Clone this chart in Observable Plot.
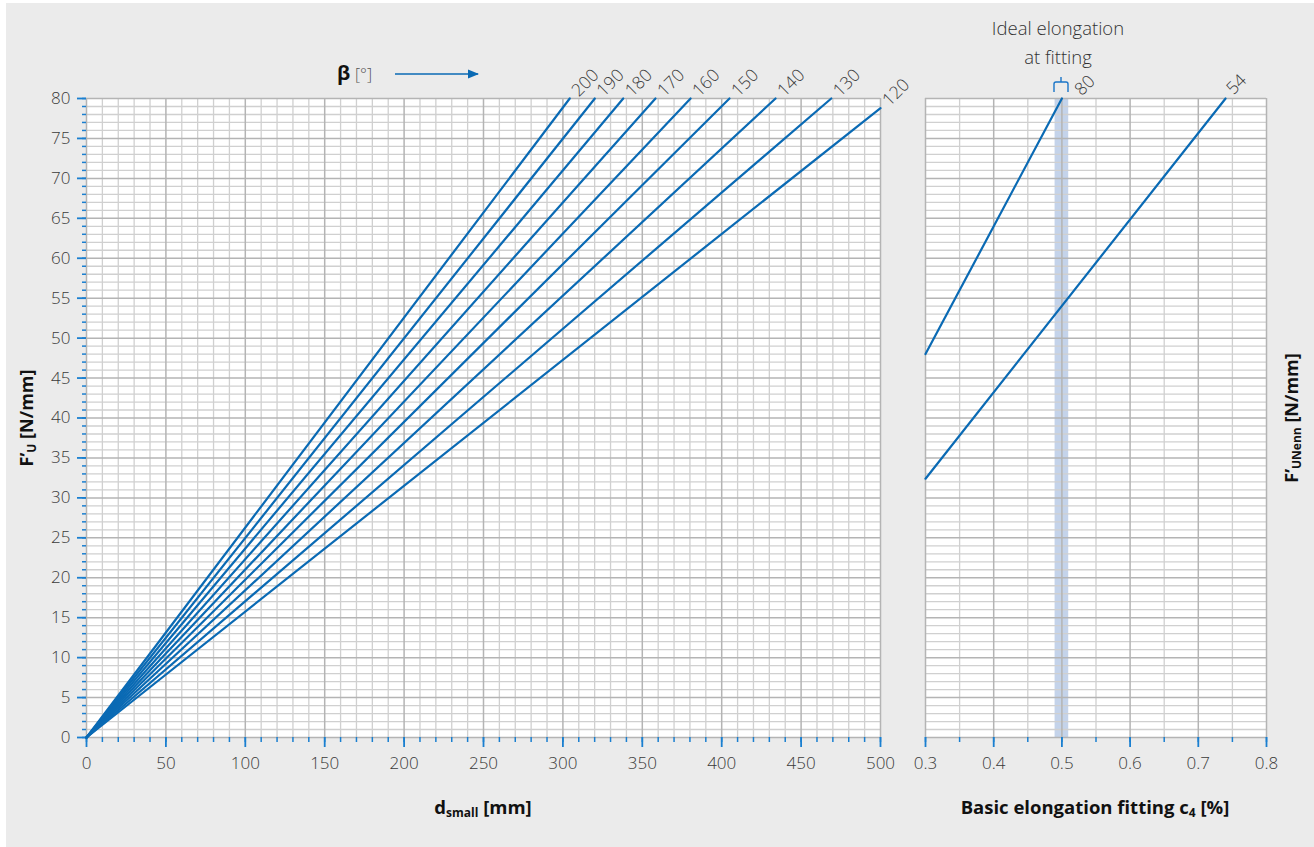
<!DOCTYPE html>
<html>
<head>
<meta charset="utf-8">
<script src="https://cdn.jsdelivr.net/npm/d3@7"></script>
<script src="https://cdn.jsdelivr.net/npm/@observablehq/plot@0.6"></script>
<style>
  html, body { margin: 0; padding: 0; background: #ffffff; }
  #wrap { position: relative; width: 1314px; height: 847px; overflow: hidden; font-family: "Open Sans", "Noto Sans", sans-serif; color: #333; }
  #bg { position: absolute; left: 6px; top: 3px; right: 0; bottom: 0; background: #ebebeb; }
  .plot { position: absolute; top: 0; }
  .plot svg { overflow: visible; }
  .title { position: absolute; font-weight: 700; font-size: 18.5px; color: #111; white-space: nowrap; }
  .title sub { font-size: 12px; vertical-align: -3px; }
  .note { position: absolute; font-size: 18.5px; font-weight: 300; color: #333; white-space: nowrap; text-align: center; line-height: 29px; }
  #overlay { position: absolute; left: 0; top: 0; pointer-events: none; }
</style>
</head>
<body>
<div id="wrap">
  <div id="bg"></div>
  <div id="left" class="plot" style="left:0px"></div>
  <div id="right" class="plot" style="left:905px"></div>
  <div class="title" style="left:27px; top:418px; font-size:18px; transform: translate(-50%,-50%) rotate(-90deg);">F’<sub>U</sub> [N/mm]</div>
  <div class="title" style="left:1292px; top:418px; font-size:18px; transform: translate(-50%,-50%) rotate(-90deg);">F’<sub>UNenn</sub> [N/mm]</div>
  <div class="title" style="left:483px; top:807px; transform: translate(-50%,-50%);">d<sub>small</sub> [mm]</div>
  <div class="title" style="left:1095px; top:807px; transform: translate(-50%,-50%);">Basic elongation fitting c<sub>4</sub> [%]</div>
  <div class="note" style="left:1058px; top:42px; transform: translate(-50%,-50%);">Ideal elongation<br>at fitting</div>
  <div class="note" style="left:337px; top:61px; text-align:left; line-height:24px;"><b style="color:#111;font-size:20px;font-weight:700">β</b> <span style="font-size:16px;color:#555">[°]</span></div>
  <svg id="overlay" width="1314" height="847">
    <defs>
      <marker id="ah" viewBox="0 0 10 10" refX="9" refY="5" markerWidth="7" markerHeight="7" orient="auto">
        <path d="M0,1 L10,5 L0,9 z" fill="#0a6ab4"></path>
      </marker>
    </defs>
    <line x1="395" y1="74" x2="478" y2="74" stroke="#0a6ab4" stroke-width="1.6" marker-end="url(#ah)"></line>
    <path d="M1054,92 L1054,84 Q1054,82 1056,82 L1066,82 Q1068,82 1068,84 L1068,92 M1061,82 L1061,77" fill="none" stroke="#1a75c8" stroke-width="1.4"></path>
  </svg>
</div>
<script>
// ---- data ----
// left panel: one line per wrap angle beta, from origin to its end point
const betaLabels = [200, 190, 180, 170, 160, 150, 140, 130, 120];
const betaEndD   = [304.3, 320.1, 338.0, 358.3, 380.4, 404.9, 433.9, 469.0, 500];
const betaEndF   = [80, 80, 80, 80, 80, 80, 80, 80, 78.8];
const originD = 0, originF = 0;

// right panel: F'UNenn lines versus basic elongation c4
const nennLabels = ["80", "54"];
const nennStartC = [0.3, 0.3];
const nennStartF = [48, 32.4];
const nennEndC   = [0.5, 0.74];
const nennEndF   = [80, 80];
const idealBand  = [0.49, 0.51];

// axis ticks
const dMajorTicks = [0, 50, 100, 150, 200, 250, 300, 350, 400, 450, 500];
const dMinorStep = 10;
const fMajorTicks = [0, 5, 10, 15, 20, 25, 30, 35, 40, 45, 50, 55, 60, 65, 70, 75, 80];
const fMinorStep = 1;
const cMajorTicks = [0.3, 0.4, 0.5, 0.6, 0.7, 0.8];
const cMinorTicks = [0.3, 0.35, 0.4, 0.45, 0.5, 0.55, 0.6, 0.65, 0.7, 0.75, 0.8];

// ---- styling ----
const BLUE = "#0a6ab4";
const TICKBLUE = "#1a7fd0";
const GRID_MINOR = "#d0d0d0";
const GRID_MAJOR = "#b4b4b4";
const TEXT = "#3a3a3a";
const FONT = "'Open Sans', 'Noto Sans', sans-serif";

const dMinor = d3.range(0, 500 + 0.001, dMinorStep);
const fMinor = d3.range(0, 80 + 0.001, fMinorStep);

const betaRows = [];
betaLabels.forEach((b, i) => {
  betaRows.push({beta: b, d: originD, F: originF});
  betaRows.push({beta: b, d: betaEndD[i], F: betaEndF[i]});
});
const betaEnds = betaLabels.map((b, i) => ({beta: String(b), d: betaEndD[i], F: betaEndF[i]}));

const nennRows = [];
nennLabels.forEach((n, i) => {
  nennRows.push({n, c: nennStartC[i], F: nennStartF[i]});
  nennRows.push({n, c: nennEndC[i], F: nennEndF[i]});
});
const nennEnds = nennLabels.map((n, i) => ({n, c: nennEndC[i], F: nennEndF[i]}));

const left = Plot.plot({
  width: 905, height: 847,
  marginLeft: 86, marginRight: 25, marginTop: 98, marginBottom: 110,
  x: {domain: [0, 500], label: null},
  y: {domain: [0, 80], label: null},
  style: {background: "transparent", fontFamily: FONT, fontSize: "17px", fontWeight: 300, color: TEXT, overflow: "visible"},
  marks: [
    Plot.frame({fill: "white", stroke: null}),
    Plot.ruleX(dMinor.filter(v => v % 50 !== 0), {stroke: GRID_MINOR, strokeWidth: 1.3}),
    Plot.ruleY(fMinor.filter(v => v % 5 !== 0), {stroke: GRID_MINOR, strokeWidth: 1.3}),
    Plot.ruleX(dMajorTicks, {stroke: GRID_MAJOR, strokeWidth: 1.5}),
    Plot.ruleY(fMajorTicks, {stroke: GRID_MAJOR, strokeWidth: 1.5}),
    Plot.axisX({ticks: dMinor, tickSize: 5, tickFormat: () => "", stroke: TICKBLUE, strokeWidth: 1.5, label: null}),
    Plot.axisX({ticks: dMajorTicks, tickSize: 10, tickPadding: 9, stroke: TICKBLUE, strokeWidth: 1.8, fill: TEXT, label: null}),
    Plot.axisY({ticks: fMinor, tickSize: 4, tickFormat: () => "", stroke: TICKBLUE, strokeWidth: 1.5, label: null}),
    Plot.axisY({ticks: fMajorTicks, tickSize: 9, tickPadding: 7, stroke: TICKBLUE, strokeWidth: 1.8, fill: TEXT, label: null}),
    Plot.line(betaRows, {x: "d", y: "F", z: "beta", stroke: BLUE, strokeWidth: 2.2}),
    Plot.text(betaEnds, {x: "d", y: "F", text: "beta", rotate: -45, textAnchor: "start", dx: 5, dy: -5, fill: TEXT, fontSize: 17.5})
  ]
});
document.getElementById("left").appendChild(left);

const right = Plot.plot({
  width: 409, height: 847,
  marginLeft: 20, marginRight: 48, marginTop: 98, marginBottom: 110,
  x: {domain: [0.3, 0.8], label: null},
  y: {domain: [0, 80], label: null, axis: null},
  style: {background: "transparent", fontFamily: FONT, fontSize: "17px", fontWeight: 300, color: TEXT, overflow: "visible"},
  marks: [
    Plot.frame({fill: "white", stroke: null}),
    Plot.rect([idealBand], {x1: d => d[0], x2: d => d[1], y1: 0, y2: 80, fill: "#c4d3ea"}),
    Plot.ruleX(cMinorTicks.filter(v => !cMajorTicks.some(m => Math.abs(m - v) < 1e-9)), {stroke: GRID_MINOR, strokeWidth: 1.3}),
    Plot.ruleY(fMinor.filter(v => v % 5 !== 0), {stroke: GRID_MINOR, strokeWidth: 1.3}),
    Plot.ruleX(cMajorTicks, {stroke: GRID_MAJOR, strokeWidth: 1.5}),
    Plot.ruleY(fMajorTicks, {stroke: GRID_MAJOR, strokeWidth: 1.5}),
    Plot.axisX({ticks: cMinorTicks, tickSize: 5, tickFormat: () => "", stroke: TICKBLUE, strokeWidth: 1.5, label: null}),
    Plot.axisX({ticks: cMajorTicks, tickSize: 10, tickPadding: 9, tickFormat: d3.format(".1f"), stroke: TICKBLUE, strokeWidth: 1.8, fill: TEXT, label: null}),
    Plot.line(nennRows, {x: "c", y: "F", z: "n", stroke: BLUE, strokeWidth: 2.2}),
    Plot.text(nennEnds.filter(d => d.n === "80"), {x: "c", y: "F", text: "n", rotate: -45, textAnchor: "start", dx: 16, dy: -6, fill: TEXT, fontSize: 17.5}),
    Plot.text(nennEnds.filter(d => d.n !== "80"), {x: "c", y: "F", text: "n", rotate: -45, textAnchor: "start", dx: 4, dy: -7, fill: TEXT, fontSize: 17.5})
  ]
});
document.getElementById("right").appendChild(right);
</script>
</body>
</html>
